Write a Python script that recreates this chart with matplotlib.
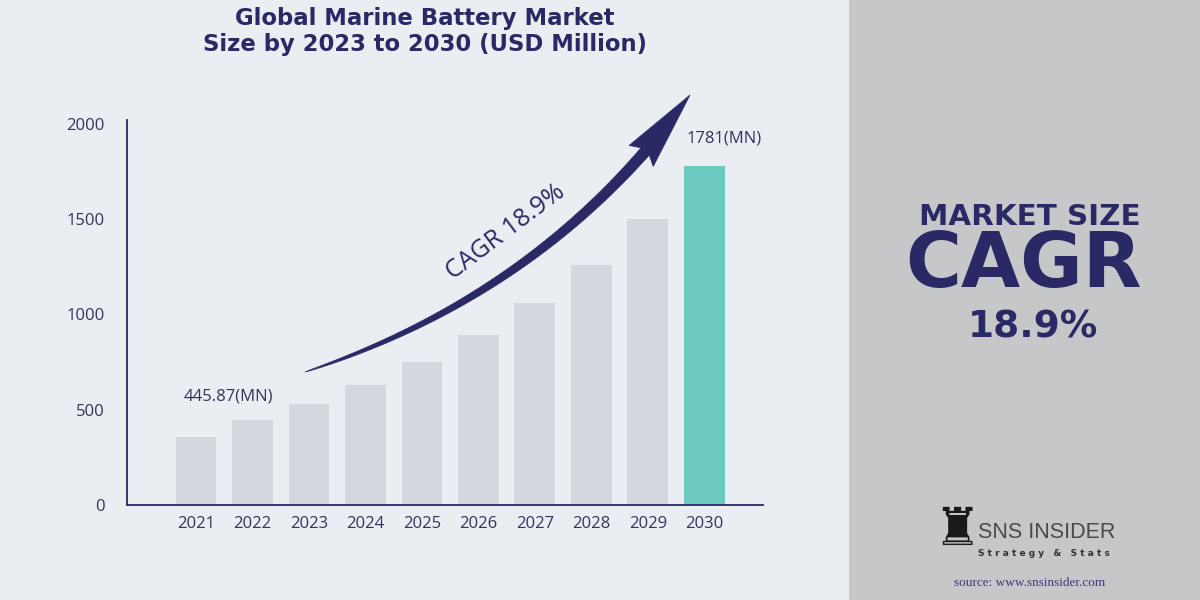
import numpy as np
import matplotlib.pyplot as plt
from matplotlib.patches import Rectangle, Polygon

# data (USD Million)
years = ['2021', '2022', '2023', '2024', '2025', '2026', '2027', '2028', '2029', '2030']
market_size = [357, 445.87, 530, 630, 751, 892, 1060, 1260, 1501, 1781]
yticks = [0, 500, 1000, 1500, 2000]
first_label = '445.87(MN)'
last_label = '1781(MN)'

navy = '#2a2965'
bar_grey = '#d3d8de'
teal = '#6dcac0'
bg = '#eaedf2'
panel = '#c6c7c9'

W, H = 1200, 600
fig = plt.figure(figsize=(12, 6), dpi=100)
fig.patch.set_facecolor(bg)

def fx(px):
    return px / W

def fy(py):
    return 1 - py / H

# right grey panel
fig.add_artist(Rectangle((fx(849), 0), 1 - fx(849), 1, transform=fig.transFigure,
                         facecolor=panel, edgecolor='none', zorder=0))

# main chart
ax = fig.add_axes([fx(127), fy(505), fx(763) - fx(127), fy(120) - fy(505)])
ax.set_facecolor('none')
x = np.arange(len(years))
colors = [bar_grey] * (len(years) - 1) + [teal]
ax.bar(x, market_size, width=0.72, color=colors, zorder=2)
ax.set_xlim(-1.22, 10.04)
ax.set_ylim(0, 2020)
ax.set_xticks(x)
ax.set_xticklabels(years)
ax.set_yticks(yticks)
for s in ['top', 'right']:
    ax.spines[s].set_visible(False)
for s in ['left', 'bottom']:
    ax.spines[s].set_color(navy)
    ax.spines[s].set_linewidth(1.3)
ax.tick_params(axis='both', length=0, labelsize=12, labelcolor='#34335a')
ax.tick_params(axis='y', pad=16)
ax.tick_params(axis='x', pad=8)
for lab in ax.get_xticklabels() + ax.get_yticklabels():
    lab.set_family('Open Sans')

ax.annotate(first_label, (1, market_size[1]), xytext=(-17, 17), textcoords='offset points',
            ha='center', va='center', fontsize=12, color='#34335a', family='Open Sans')
ax.annotate(last_label, (9, market_size[-1]), xytext=(14, 14), textcoords='offset points',
            ha='center', va='bottom', fontsize=12, color='#34335a', family='Open Sans')

# title
fig.text(fx(425), fy(18), 'Global Marine Battery Market', ha='center', va='center',
         fontsize=16.4, fontweight='bold', color=navy)
fig.text(fx(425), fy(45), 'Size by 2023 to 2030 (USD Million)', ha='center', va='center',
         fontsize=16.4, fontweight='bold', color=navy)

# curved tapered CAGR arrow (pixel coords)
P0 = np.array([305, 372.0])
P1 = np.array([548, 292.0])
P2 = np.array([690, 95.0])

def bez(t):
    t = np.asarray(t)[:, None]
    return (1 - t) ** 2 * P0 + 2 * (1 - t) * t * P1 + t ** 2 * P2

def dbez(t):
    t = np.asarray(t)[:, None]
    return 2 * (1 - t) * (P1 - P0) + 2 * t * (P2 - P1)

t_end = 0.85
ts = np.linspace(0, t_end, 80)
pts = bez(ts)
d = dbez(ts)
n = np.column_stack([-d[:, 1], d[:, 0]])
n /= np.linalg.norm(n, axis=1)[:, None]
half = 5.5 * (ts / t_end) ** 0.6
upper = pts + n * half[:, None]
lower = pts - n * half[:, None]
base = bez([t_end])[0]
tang = d[-1] / np.linalg.norm(d[-1])
nb = n[-1]
head = [base + nb * 16 - tang * 6, P2, base - nb * 16 - tang * 6]
shape = np.vstack([upper, head, lower[::-1]])
shape_fig = np.column_stack([shape[:, 0] / W, 1 - shape[:, 1] / H])
fig.add_artist(Polygon(shape_fig, closed=True, transform=fig.transFigure,
                       facecolor=navy, edgecolor=navy, linewidth=0.5, zorder=5))

fig.text(fx(506), fy(232), 'CAGR 18.9%', rotation=37, ha='center', va='center',
         fontsize=18, color=navy, family='Open Sans', rotation_mode='anchor')

# right panel text
fig.text(fx(1030), fy(217), 'MARKET SIZE', ha='center', va='center',
         fontsize=21.2, fontweight='bold', color=navy)
fig.text(fx(1024), fy(266), 'CAGR', ha='center', va='center',
         fontsize=55, fontweight='bold', color=navy)
fig.text(fx(1033), fy(328), '18.9%', ha='center', va='center',
         fontsize=27, fontweight='bold', color=navy)

# logo
fig.text(fx(957), fy(530), '\u265c', ha='center', va='center', fontsize=38, color='#1a1a1a')
fig.text(fx(978), fy(533), 'SNS INSIDER', ha='left', va='center',
         fontsize=15.5, color='#4a4a4a', family='Liberation Sans')
fig.text(fx(978), fy(553), 'S t r a t e g y   &   S t a t s', ha='left', va='center',
         fontsize=6.5, color='#333333', fontweight='bold')
fig.text(fx(1030), fy(583), 'source: www.snsinsider.com', ha='center', va='center',
         fontsize=9.5, color='#3a3877', family='Liberation Serif')

fig.savefig('out.png', dpi=100, facecolor=fig.get_facecolor())
